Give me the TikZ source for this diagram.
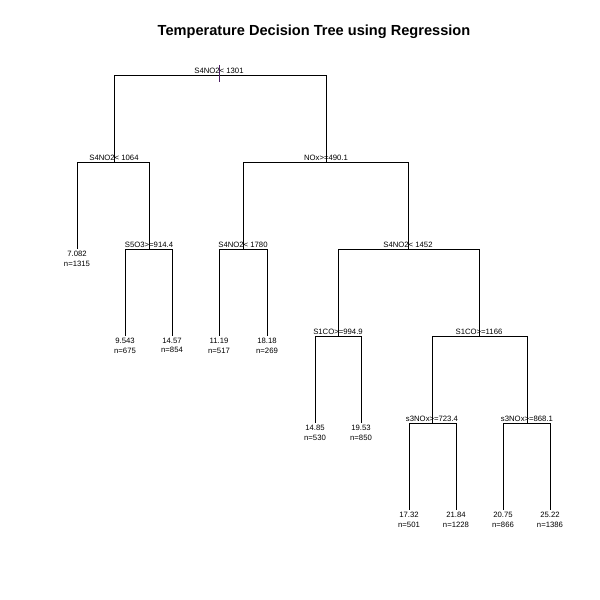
\documentclass[tikz,border=0pt]{standalone}
\usepackage{fontspec}
\setmainfont{Liberation Sans}
\definecolor{tickpurple}{RGB}{75,30,100}
\begin{document}
\begin{tikzpicture}[
    x=0.02cm, y=-0.02cm,
    branch/.style={draw, line width=0.5pt},
    split/.style={anchor=south, inner sep=0.6pt, font=\fontsize{4.4}{5}\selectfont},
    leaf/.style={anchor=north, inner sep=0.8pt, align=center, font=\fontsize{4.4}{5.6}\selectfont}
]
    \useasboundingbox (0,0) rectangle (600,600);
    \node[font=\bfseries\fontsize{8.3}{10}\selectfont] (title) at (314,32) {Temperature Decision Tree using Regression};

    % split points
    \coordinate (root) at (219,75);
    \coordinate (l) at (114,162);
    \coordinate (r) at (326,162);
    \coordinate (lr) at (149,249);
    \coordinate (rl) at (243,249);
    \coordinate (rr) at (408,249);
    \coordinate (rrl) at (338,336);
    \coordinate (rrr) at (479,336);
    \coordinate (rrrl) at (432,423);
    \coordinate (rrrr) at (527,423);

    % leaf ends
    \coordinate (ll) at (77,249);
    \coordinate (lrl) at (125,336);
    \coordinate (lrr) at (172,336);
    \coordinate (rll) at (219,336);
    \coordinate (rlr) at (267,336);
    \coordinate (rrll) at (315,423);
    \coordinate (rrlr) at (361,423);
    \coordinate (rrrll) at (409,510);
    \coordinate (rrrlr) at (456,510);
    \coordinate (rrrrl) at (503,510);
    \coordinate (rrrrr) at (550,510);

    % branches
    \draw[branch] (root) -| (l);  \draw[branch] (root) -| (r);
    \draw[branch] (l) -| (ll);    \draw[branch] (l) -| (lr);
    \draw[branch] (lr) -| (lrl);  \draw[branch] (lr) -| (lrr);
    \draw[branch] (r) -| (rl);    \draw[branch] (r) -| (rr);
    \draw[branch] (rl) -| (rll);  \draw[branch] (rl) -| (rlr);
    \draw[branch] (rr) -| (rrl);  \draw[branch] (rr) -| (rrr);
    \draw[branch] (rrl) -| (rrll);  \draw[branch] (rrl) -| (rrlr);
    \draw[branch] (rrr) -| (rrrl);  \draw[branch] (rrr) -| (rrrr);
    \draw[branch] (rrrl) -| (rrrll);  \draw[branch] (rrrl) -| (rrrlr);
    \draw[branch] (rrrr) -| (rrrrl);  \draw[branch] (rrrr) -| (rrrrr);
    \coordinate (roottop) at (219,65);
    \coordinate (rootbot) at (219,82);
    \draw[tickpurple, line width=0.5pt] (roottop) -- (rootbot);

    % split labels
    \node[split] (sroot) at (root) {S4NO2< 1301};
    \node[split] (sl) at (l) {S4NO2< 1064};
    \node[split] (sr) at (r) {NOx>=490.1};
    \node[split] (slr) at (lr) {S5O3>=914.4};
    \node[split] (srl) at (rl) {S4NO2< 1780};
    \node[split] (srr) at (rr) {S4NO2< 1452};
    \node[split] (srrl) at (rrl) {S1CO>=994.9};
    \node[split] (srrr) at (rrr) {S1CO>=1166};
    \node[split] (srrrl) at (rrrl) {s3NOx>=723.4};
    \node[split] (srrrr) at (rrrr) {s3NOx>=868.1};

    % leaf labels
    \node[leaf] (vll) at (ll) {7.082\\n=1315};
    \node[leaf] (vlrl) at (lrl) {9.543\\n=675};
    \node[leaf] (vlrr) at (lrr) {14.57\\n=854};
    \node[leaf] (vrll) at (rll) {11.19\\n=517};
    \node[leaf] (vrlr) at (rlr) {18.18\\n=269};
    \node[leaf] (vrrll) at (rrll) {14.85\\n=530};
    \node[leaf] (vrrlr) at (rrlr) {19.53\\n=850};
    \node[leaf] (vrrrll) at (rrrll) {17.32\\n=501};
    \node[leaf] (vrrrlr) at (rrrlr) {21.84\\n=1228};
    \node[leaf] (vrrrrl) at (rrrrl) {20.75\\n=866};
    \node[leaf] (vrrrrr) at (rrrrr) {25.22\\n=1386};
\end{tikzpicture}
\end{document}
